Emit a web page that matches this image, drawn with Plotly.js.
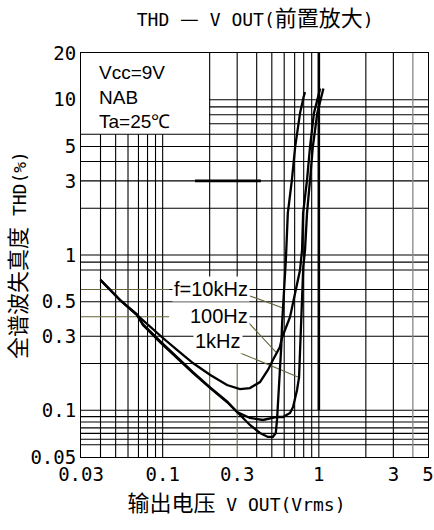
<!DOCTYPE html>
<html>
<head>
<meta charset="utf-8">
<script src="https://cdn.plot.ly/plotly-3.0.1.min.js"></script>
<style>html,body{margin:0;padding:0;background:#fff;}#chart{width:434px;height:530px;}</style>
</head>
<body>
<div id="chart"></div>
<script>
// ---- Data ----
const xTickVals = [0.03, 0.1, 0.3, 1, 3, 5];
const xTickText = ['0.03', '0.1', '0.3', '1', '3', '5'];
const yTickVals = [0.05, 0.1, 0.3, 0.5, 1, 3, 5, 10, 20];
const yTickText = ['0.05', '0.1', '0.3', '0.5', '1', '3', '5', '10', '20'];

// f = 10kHz
const vout10k = [0.04, 0.0533, 0.0684, 0.0748, 0.0962, 0.1235, 0.1562, 0.2019, 0.2582, 0.2996, 0.362, 0.42, 0.472, 0.508, 0.53, 0.54, 0.55, 0.566, 0.575, 0.582, 0.59, 0.61, 0.615, 0.633, 0.672, 0.705, 0.758, 0.80, 0.816];
const thd10k  = [0.69, 0.513, 0.411, 0.354, 0.275, 0.217, 0.174, 0.139, 0.113, 0.0975, 0.0804, 0.0714, 0.0673, 0.0673, 0.0714, 0.087, 0.12, 0.174, 0.26, 0.365, 0.462, 0.766, 0.93, 1.86, 3.04, 4.96, 8.2, 10.5, 11.2];
// 100Hz
const vout100 = [0.04, 0.0533, 0.0684, 0.083, 0.1004, 0.1235, 0.1562, 0.2019, 0.2582, 0.3124, 0.362, 0.42, 0.472, 0.508, 0.563, 0.58, 0.654, 0.705, 0.758, 0.781, 0.793, 0.84, 0.878, 0.93, 0.99, 1.02];
const thd100  = [0.69, 0.513, 0.411, 0.344, 0.292, 0.2445, 0.2015, 0.1688, 0.1455, 0.137, 0.139, 0.152, 0.1817, 0.2108, 0.2556, 0.292, 0.399, 0.569, 0.80, 1.08, 1.86, 3.04, 4.96, 8.2, 10.5, 11.8];
// 1kHz
const vout1k = [0.04, 0.0533, 0.0684, 0.0748, 0.0962, 0.1235, 0.1562, 0.2019, 0.2582, 0.2996, 0.362, 0.439, 0.539, 0.589, 0.654, 0.684, 0.725, 0.747, 0.758, 0.78, 0.795, 0.816, 0.84, 0.878, 0.915, 0.977, 1.05, 1.07];
const thd1k  = [0.69, 0.513, 0.415, 0.358, 0.279, 0.22, 0.176, 0.14, 0.114, 0.0975, 0.0892, 0.0866, 0.0905, 0.0905, 0.096, 0.105, 0.135, 0.163, 0.244, 0.51, 0.84, 1.08, 1.86, 3.04, 4.96, 8.2, 11.0, 11.8];

// Curve labels and their leader lines (from label to curve)
const labelText = ['f=10kHz', '100Hz', '1kHz'];
const labelV = [0.362, 0.362, 0.327];
const labelT = [0.60, 0.405, 0.28];
const leaderV = [[0.362, 0.589], [0.352, 0.531], [0.314, 0.735]];
const leaderT = [[0.545, 0.456], [0.370, 0.237], [0.234, 0.164]];

// Grid lines of the printed chart paper
const gridVFull = [0.4, 0.5, 0.6, 0.7, 0.8, 0.9, 2, 3];
const gridVLow = [0.04, 0.05, 0.06, 0.07, 0.08, 0.09, 0.1];
const gridVUpperOnly = [0.2, 0.3];
const gridVOlive = [0.2, 0.3];
const gridVGray = [4];
const gridHFull = [0.06, 0.065, 0.071, 0.077, 0.084, 0.091, 0.1, 0.2, 0.3, 0.5, 0.8, 0.9, 1, 2, 3, 4, 5, 6];
const gridHRight = [7, 8, 9, 10];
const gridHOlive = [0.6, 0.4];
const gridHOliveEnd = 0.11;
const gridHPartial = [0.6, 0.4];
const gridHPartialStart = [0.11, 0.35];
const mark3V = [0.161, 0.426];
const mark3T = 3;

// ---- Build ----
const X0 = 0.03, X1 = 5, Y0 = 0.05, Y1 = 20;
function addSeg(acc, xa, ya) { acc.x.push(xa[0], xa[1], null); acc.y.push(ya[0], ya[1], null); }
const black = {x: [], y: []}, olive = {x: [], y: []}, gray = {x: [], y: []}, thick = {x: [], y: []};
gridVFull.forEach(v => addSeg(black, [v, v], [Y0, Y1]));
gridVLow.forEach(v => addSeg(black, [v, v], [Y0, 6]));
gridVUpperOnly.forEach(v => addSeg(black, [v, v], [0.7, Y1]));
addSeg(black, [1, 1], [Y0, 0.1]);
gridHFull.forEach(t => addSeg(black, [X0, X1], [t, t]));
gridHRight.forEach(t => addSeg(black, [0.2, X1], [t, t]));
gridHPartial.forEach((t, i) => addSeg(black, [gridHPartialStart[i], X1], [t, t]));
gridVOlive.forEach(v => addSeg(olive, [v, v], [Y0, 0.2]));
gridHOlive.forEach(t => addSeg(olive, [X0, gridHOliveEnd], [t, t]));
gridVGray.forEach(v => addSeg(gray, [v, v], [Y0, Y1]));
addSeg(thick, [1, 1], [0.1, Y1]);
addSeg(thick, mark3V, [mark3T, mark3T]);

const leader = {x: [], y: []};
leaderV.forEach((xv, i) => addSeg(leader, xv, leaderT[i]));

const gridTrace = (d, color, w) => ({x: d.x, y: d.y, mode: 'lines', line: {color: color, width: w}, hoverinfo: 'skip', showlegend: false, connectgaps: false});
const curve = (x, y, name) => ({x: x, y: y, name: name, mode: 'lines', line: {color: '#000', width: 2.3}, showlegend: false});

const data = [
  gridTrace(black, '#000', 1.1),
  gridTrace(gray, '#888', 1.3),
  gridTrace(olive, '#66663a', 1.1),
  gridTrace(thick, '#000', 2.6),
  gridTrace(leader, '#66663a', 1.1),
  curve(vout10k, thd10k, 'f=10kHz'),
  curve(vout100, thd100, '100Hz'),
  curve(vout1k, thd1k, '1kHz')
];

const MONO = 'DejaVu Sans Mono, Noto Sans CJK JP, monospace';
const CJK = 'Noto Sans CJK JP';
const annotations = labelText.map((t, i) => ({
  text: t, x: Math.log10(labelV[i]), y: Math.log10(labelT[i]), xref: 'x', yref: 'y',
  xanchor: 'right', yanchor: 'middle', showarrow: false, bgcolor: '#fff', borderpad: 1,
  font: {family: 'Liberation Sans, Arial, sans-serif', size: 20, color: '#000'}
}));
annotations.push({
  text: 'Vcc=9V<br>NAB<br>Ta=25℃', xref: 'paper', yref: 'paper', x: 0.046, y: 0.891,
  xanchor: 'left', yanchor: 'middle', align: 'left', showarrow: false,
  font: {family: 'Liberation Sans, Arial, sans-serif', size: 19, color: '#000'}
});

const layout = {
  width: 434, height: 530,
  margin: {l: 81, r: 6, t: 53, b: 73},
  paper_bgcolor: '#fff', plot_bgcolor: '#fff',
  title: {
    text: 'THD <span style="font-family:' + CJK + ';font-size:21px">—</span> V OUT(<span style="font-family:' + CJK + ';font-size:22px">前置放大</span>)',
    font: {family: MONO, size: 18, color: '#000'},
    x: 0.588, xanchor: 'center', xref: 'container', y: 0.962, yanchor: 'middle', yref: 'container'
  },
  xaxis: {
    type: 'log', range: [Math.log10(X0), Math.log10(X1)],
    tickmode: 'array', tickvals: xTickVals, ticktext: xTickText,
    showgrid: false, zeroline: false, ticks: '',
    showline: true, mirror: true, linecolor: '#000', linewidth: 1,
    tickfont: {family: MONO, size: 19, color: '#000'},
    title: {text: '<span style="font-family:' + CJK + ';font-size:22px">输出电压</span> V OUT(Vrms)<span style="font-family:' + CJK + ';font-size:18px">\u3000\u3000</span>', font: {family: MONO, size: 18, color: '#000'}, standoff: 12}
  },
  yaxis: {
    type: 'log', range: [Math.log10(Y0), Math.log10(Y1)],
    tickmode: 'array', tickvals: yTickVals, ticktext: yTickText,
    showgrid: false, zeroline: false, ticks: '',
    showline: true, mirror: true, linecolor: '#000', linewidth: 1,
    tickfont: {family: MONO, size: 19, color: '#000'},
    title: {text: '<span style="font-family:' + CJK + ';font-size:22px">全谱波失真度</span> THD(%)', font: {family: MONO, size: 18, color: '#000'}, standoff: 6}
  },
  annotations: annotations
};

Plotly.newPlot('chart', data, layout, {staticPlot: true, displayModeBar: false});
</script>
</body>
</html>
